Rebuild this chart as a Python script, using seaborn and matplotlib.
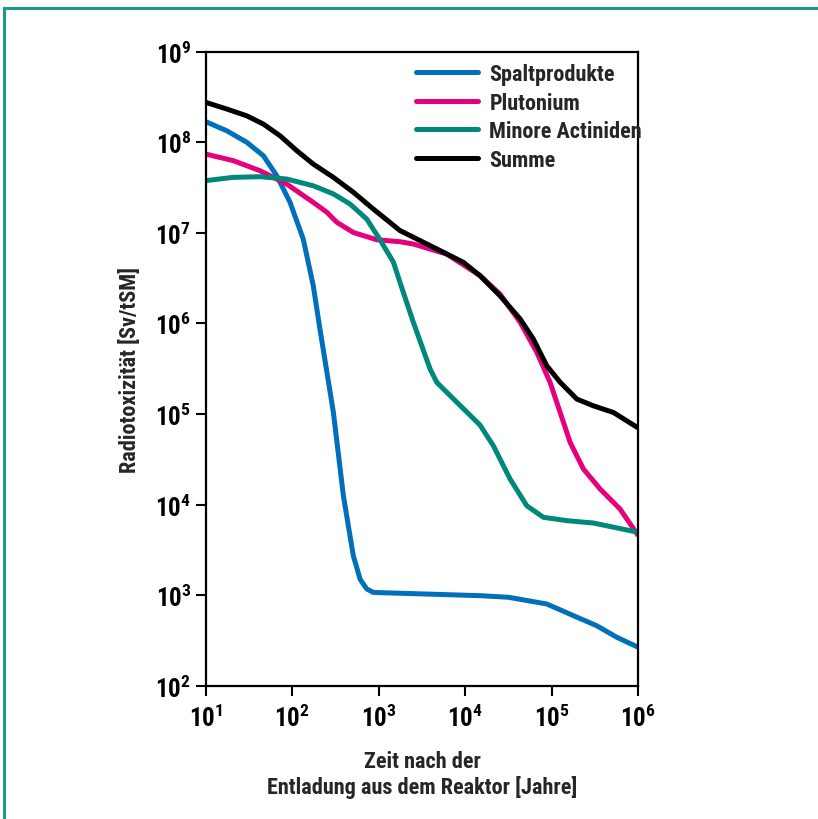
import numpy as np
import pandas as pd
import seaborn as sns
import matplotlib.pyplot as plt
from matplotlib import font_manager
from matplotlib.patches import Rectangle
from matplotlib.lines import Line2D

spalt_x = [10, 17.5, 29.8, 46.3, 66.2, 94.4, 134, 175, 209, 299, 390, 508, 610, 726, 867,
           14800, 31600, 87500, 178000, 331000, 562000, 1e6]
spalt_y = [1.69e8, 1.34e8, 1.00e8, 7.11e7, 4.28e7, 2.17e7, 8.55e6, 2.61e6, 8.67e5, 1.04e5, 1.25e4,
           2.72e3, 1.49e3, 1.17e3, 1.07e3, 986, 946, 798, 593, 459, 343, 265]

pu_x = [10, 20.8, 42.5, 86.3, 175, 251, 327, 508, 948, 1760, 2510, 6110, 14800, 25200, 43100,
        67100, 95500, 125000, 163000, 232000, 361000, 615000, 1e6]
pu_y = [7.41e7, 6.27e7, 4.85e7, 3.46e7, 2.17e7, 1.69e7, 1.31e7, 1.01e7, 8.39e6, 7.98e6, 7.53e6,
        5.83e6, 3.37e6, 2.11e6, 1.03e6, 4.80e5, 2.24e5, 1.04e5, 4.86e4, 2.47e4, 1.49e4, 8.93e3, 4.53e3]

ma_x = [10, 20.8, 42.5, 86.3, 175, 299, 466, 726, 1040, 1480, 1760, 2510, 3920, 4690, 7980,
        14800, 21100, 33000, 51400, 80000, 149000, 303000, 1e6]
ma_y = [3.77e7, 4.10e7, 4.17e7, 3.93e7, 3.31e7, 2.69e7, 2.08e7, 1.42e7, 8.32e6, 4.73e6, 2.84e6,
        1.03e6, 3.14e5, 2.23e5, 1.35e5, 7.55e4, 4.47e4, 1.91e4, 9.70e3, 7.23e3, 6.64e3, 6.25e3, 4.93e3]

sum_x = [10, 17.5, 29.8, 46.3, 72.3, 113, 175, 299, 508, 867, 1760, 4690, 9510, 14800, 25200,
         43100, 61200, 87500, 125000, 195000, 303000, 515000, 1e6]
sum_y = [2.76e8, 2.33e8, 1.96e8, 1.59e8, 1.18e8, 8.07e7, 5.75e7, 4.10e7, 2.81e7, 1.83e7, 1.06e7,
         6.64e6, 4.73e6, 3.37e6, 2.02e6, 1.12e6, 6.73e5, 3.41e5, 2.24e5, 1.46e5, 1.23e5, 1.04e5, 7.0e4]

series = ["Spaltprodukte", "Plutonium", "Minore Actiniden", "Summe"]
colors = ["#0070ba", "#e6007e", "#00897b", "#000000"]
x_ticks = [1e1, 1e2, 1e3, 1e4, 1e5, 1e6]
y_ticks = [1e2, 1e3, 1e4, 1e5, 1e6, 1e7, 1e8, 1e9]

frames = []
for name, xs, ys in zip(series, [spalt_x, pu_x, ma_x, sum_x], [spalt_y, pu_y, ma_y, sum_y]):
    frames.append(pd.DataFrame({"Jahre": xs, "Wert": ys, "Reihe": name}))
df = pd.concat(frames, ignore_index=True)

sns.set_style("white")
fam = "DejaVu Sans"
for cand in ["Liberation Sans Narrow", "Roboto Condensed", "DejaVu Sans Condensed"]:
    try:
        font_manager.findfont(cand, fallback_to_default=False)
        fam = cand
        break
    except Exception:
        pass
plt.rcParams["font.family"] = [fam, "DejaVu Sans"]
plt.rcParams["font.weight"] = "bold"
plt.rcParams["mathtext.fontset"] = "custom"
plt.rcParams["mathtext.rm"] = fam + ":bold"
plt.rcParams["mathtext.bf"] = fam + ":bold"

fig = plt.figure(figsize=(8.18, 8.2), dpi=100)
ax = fig.add_axes([0.2515, 0.1626, 0.5288, 0.7731])

sns.lineplot(data=df, x="Jahre", y="Wert", hue="Reihe", hue_order=series,
             palette=colors, estimator=None, sort=True, linewidth=3.6, ax=ax, legend=False)
for ln in ax.get_lines():
    ln.set_solid_joinstyle("round")
    ln.set_solid_capstyle("butt")

ax.set_xscale("log")
ax.set_yscale("log")
ax.set_xlim(1e1, 1e6)
ax.set_ylim(1e2, 1e9)
ax.set_xticks(x_ticks)
ax.set_yticks(y_ticks)
ax.set_xticklabels([r"$\mathbf{10^{%d}}$" % int(np.log10(v)) for v in x_ticks])
ax.set_yticklabels([r"$\mathbf{10^{%d}}$" % int(np.log10(v)) for v in y_ticks])
ax.minorticks_off()
ax.tick_params(axis="both", which="major", direction="out", length=7, width=1.5,
               labelsize=18, colors="black", bottom=True, left=True)
ax.tick_params(axis="x", pad=6)
for s in ax.spines.values():
    s.set_linewidth(1.6)
    s.set_color("black")

ax.set_xlabel("Zeit nach der\nEntladung aus dem Reaktor [Jahre]", fontsize=16,
              fontweight="bold", labelpad=14, linespacing=1.15)
ax.set_ylabel("Radiotoxizität [Sv/tSM]", fontsize=16, fontweight="bold", labelpad=10)

handles = [Line2D([0], [0], color=c, lw=3.6) for c in colors]
ax.legend(handles, series, loc="upper left", bbox_to_anchor=(0.44, 1.014), frameon=False,
          handlelength=2.8, handletextpad=0.5, labelspacing=0.3,
          prop={"family": [fam, "DejaVu Sans"], "weight": "bold", "size": 16})

fig.patches.append(Rectangle((4 / 818, -0.1), 1.2, 1.1 - 9.3 / 820,
                             transform=fig.transFigure, fill=False,
                             edgecolor="#1a9a8c", linewidth=2.2))

fig.savefig("out.png", dpi=100)
